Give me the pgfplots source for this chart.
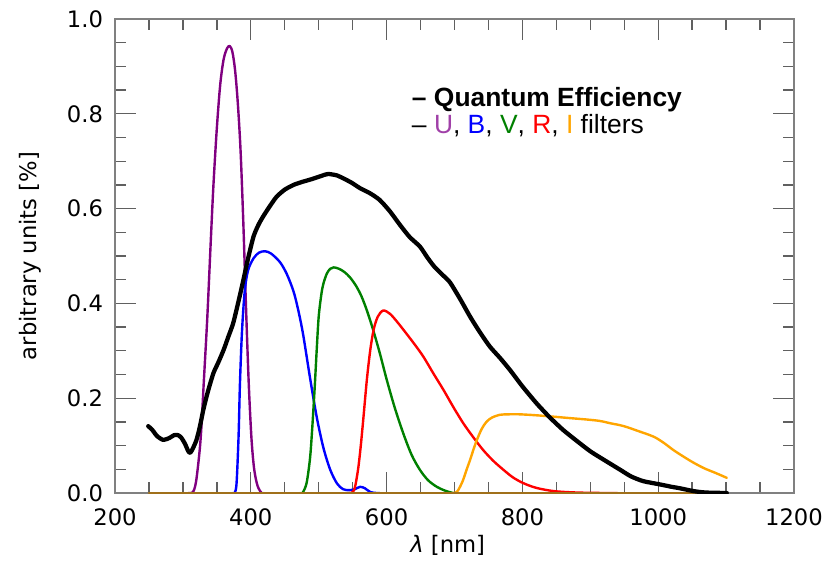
\documentclass[border=0pt]{standalone}
\usepackage{pgfplots}
\pgfplotsset{compat=1.18}
\usepackage{fontspec}
\setmainfont{DejaVu Sans}
\newfontfamily\arial{Liberation Sans}
\definecolor{ucol}{HTML}{800080}
\definecolor{utext}{HTML}{A040A8}
\definecolor{bcol}{HTML}{0000FF}
\definecolor{vcol}{HTML}{008000}
\definecolor{rcol}{HTML}{FF0000}
\definecolor{icol}{HTML}{FFA500}
\definecolor{basecol}{HTML}{A0701A}
\definecolor{tickgray}{HTML}{606060}
\begin{document}
\begin{tikzpicture}
\useasboundingbox (-86.25pt,-51pt) rectangle (535.5pt,369.75pt);
\begin{axis}[
  at={(0,0)}, anchor=south west,
  width=509.25pt, height=355.5pt, scale only axis,
  xmin=200, xmax=1200, ymin=0, ymax=1,
  xtick={200,400,600,800,1000,1200},
  ytick={0,0.2,0.4,0.6,0.8,1.0},
  minor x tick num=3, minor y tick num=3,
  tick align=inside,
  major tick length=16pt, minor tick length=8pt,
  every tick/.style={draw=tickgray, line width=1pt},
  axis line style={draw=gray, line width=1.1pt},
  font=\fontsize{17}{20}\selectfont,
  /pgf/number format/assume math mode=true,
  yticklabel style={xshift=-5.5pt, /pgf/number format/.cd, fixed, fixed zerofill, precision=1},
  xticklabel style={yshift=-8pt, /pgf/number format/1000 sep={}},
  xlabel={{\itshape λ} [nm]},
  ylabel={arbitrary units [\%]},
  xlabel style={at={(axis description cs:0.49,-0.11)}, anchor=center},
  ylabel style={at={(axis description cs:-0.125,0.5)}, anchor=center},
  every axis plot/.append style={line cap=round, line join=round},
]
% U filter
\addplot[ucol, line width=1.8pt, smooth, tension=0.5] coordinates {
(308,0) (312,0) (316,0.005) (320,0.03) (326,0.112) (331,0.24) (336,0.372) (341,0.53) (345,0.65) (350,0.77) (355,0.862) (360,0.915) (365,0.938) (369,0.943) (373,0.93) (377,0.89) (381,0.82) (385,0.72) (389,0.57) (393,0.39) (397,0.23) (401,0.115) (405,0.05) (410,0.015) (416,0) (420,0)};
% B filter
\addplot[bcol, line width=1.8pt, smooth, tension=0.5] coordinates {
(372,0) (376,0) (379,0.02) (382,0.12) (384,0.23) (387,0.34) (391,0.425) (396,0.47) (404,0.495) (412,0.507) (421,0.51) (430,0.505) (443,0.487) (453,0.462) (463,0.425) (470,0.385) (477,0.335) (487,0.245) (497,0.161) (507,0.095) (517,0.049) (527,0.02) (536,0.008) (545,0.006) (553,0.008) (561,0.013) (568,0.01) (576,0.002) (585,0) (590,0)};
% V filter
\addplot[vcol, line width=1.8pt, smooth, tension=0.5] coordinates {
(472,0) (476,0) (482,0.02) (487,0.07) (490,0.126) (494,0.22) (497,0.30) (500,0.372) (504,0.42) (507,0.442) (512,0.463) (517,0.473) (522,0.476) (530,0.473) (538,0.466) (546,0.455) (555,0.437) (563,0.415) (571,0.385) (580,0.345) (590,0.295) (600,0.24) (612,0.18) (625,0.124) (637,0.08) (649,0.049) (661,0.027) (674,0.013) (686,0.005) (698,0) (705,0)};
% R filter
\addplot[rcol, line width=1.8pt, smooth, tension=0.5] coordinates {
(544,0) (548,0) (553,0.01) (558,0.05) (562,0.1) (566,0.161) (571,0.24) (576,0.302) (581,0.345) (587,0.372) (595,0.385) (605,0.378) (615,0.362) (625,0.344) (640,0.316) (654,0.288) (669,0.252) (684,0.217) (698,0.182) (713,0.147) (728,0.117) (742,0.091) (757,0.068) (772,0.049) (786,0.033) (801,0.021) (820,0.011) (846,0.004) (880,0.001) (920,0) (940,0)};
% I filter
\addplot[icol, line width=1.8pt, smooth, tension=0.5] coordinates {
(696,0) (700,0) (705,0.005) (712,0.025) (718,0.05) (723,0.07) (728,0.092) (733,0.112) (740,0.135) (747,0.15) (755,0.159) (767,0.165) (780,0.166) (796,0.166) (820,0.164) (846,0.161) (870,0.158) (895,0.155) (914,0.152) (930,0.147) (944,0.143) (954,0.139) (970,0.131) (993,0.119) (1008,0.106) (1022,0.091) (1037,0.077) (1052,0.064) (1068,0.052) (1085,0.042) (1101,0.032)};
% zero baseline of the filters
\addplot[basecol, line width=1.8pt] coordinates {(250,0) (1100,0)};
% Quantum efficiency
\addplot[black, line width=3.2pt, smooth, tension=0.4] coordinates {
(249,0.141) (255,0.133) (262,0.12) (271,0.112) (280,0.116) (287,0.122) (293,0.122) (298,0.116) (303,0.104) (308,0.088) (311,0.085) (315,0.095) (320,0.112) (325,0.14) (330,0.175) (337,0.215) (345,0.253) (352,0.275) (360,0.302) (367,0.33) (374,0.358) (382,0.405) (389,0.449) (396,0.495) (404,0.541) (411,0.565) (418,0.583) (428,0.605) (438,0.625) (450,0.64) (463,0.65) (475,0.656) (487,0.661) (500,0.667) (508,0.671) (514,0.673) (520,0.672) (527,0.67) (536,0.664) (548,0.655) (561,0.643) (576,0.632) (590,0.618) (605,0.594) (620,0.565) (634,0.54) (649,0.52) (660,0.497) (670,0.478) (681,0.462) (693,0.445) (708,0.41) (723,0.372) (737,0.34) (752,0.309) (767,0.285) (782,0.259) (800,0.225) (821,0.189) (840,0.16) (860,0.133) (880,0.11) (900,0.088) (920,0.07) (944,0.049) (960,0.035) (978,0.025) (1003,0.018) (1020,0.013) (1032,0.010) (1052,0.004) (1070,0.001) (1101,0)};
\node[anchor=base west, inner sep=0pt, font=\arial\bfseries\fontsize{19.8}{22}\selectfont] at (axis cs:637,0.816) {– Quantum Efficiency};
\node[anchor=base west, inner sep=0pt, font=\arial\fontsize{19.8}{22}\selectfont] at (axis cs:637,0.759) {– \textcolor{utext}{U}, \textcolor{bcol}{B}, \textcolor{vcol}{V}, \textcolor{rcol}{R}, \textcolor{icol}{I} filters};
\end{axis}
\end{tikzpicture}
\end{document}
